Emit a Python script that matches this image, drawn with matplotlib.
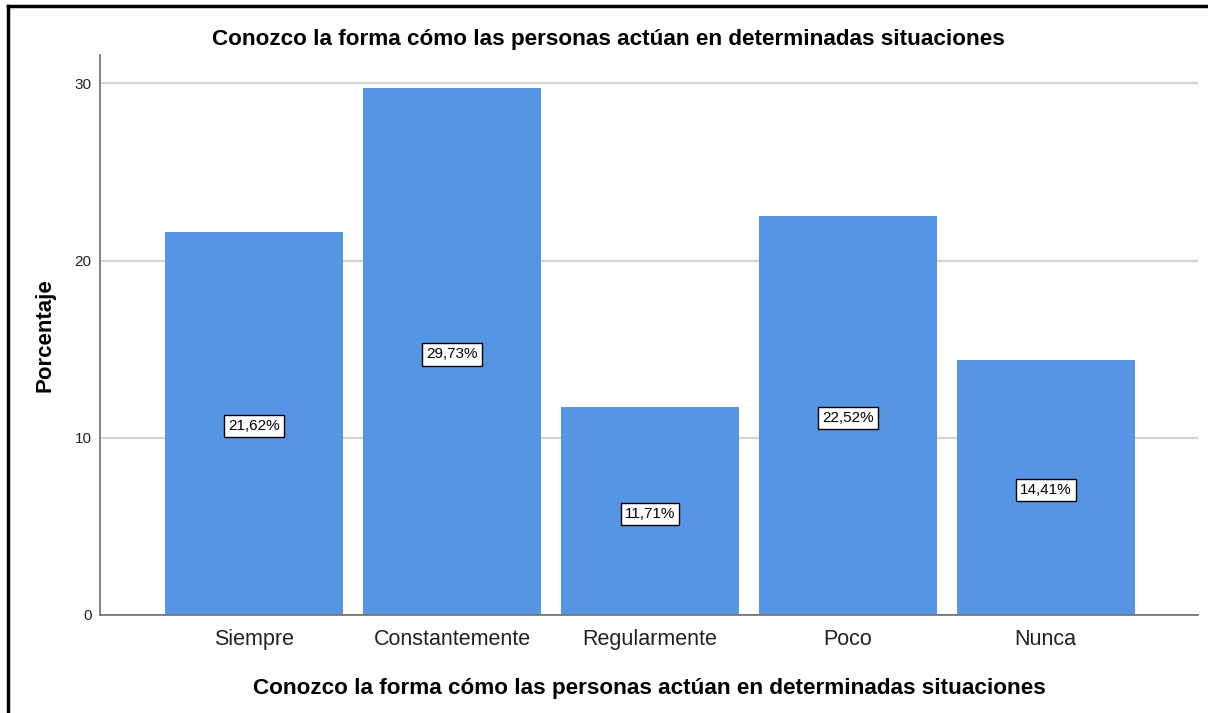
import matplotlib.pyplot as plt
import numpy as np
from matplotlib.lines import Line2D

plt.rcParams['font.family'] = ['Liberation Sans', 'DejaVu Sans']

categorias = ['Siempre', 'Constantemente', 'Regularmente', 'Poco', 'Nunca']
porcentajes = [21.62, 29.73, 11.71, 22.52, 14.41]
titulo = 'Conozco la forma cómo las personas actúan en determinadas situaciones'

BAR = '#5595E3'
GRID = '#D3D3D3'

fig = plt.figure(figsize=(12.08, 7.13), dpi=100)
ax = fig.add_axes([100/1208, 1-615/713, 1098/1208, (615-55)/713])

x = np.arange(len(categorias))
ax.bar(x, porcentajes, 0.9, color=BAR, zorder=2)
for xi, v in zip(x, porcentajes):
    ax.text(xi, v/2 - 0.15, f'{v:.2f}%'.replace('.', ','), ha='center', va='center', fontsize=11,
            color='black', zorder=3,
            bbox=dict(boxstyle='square,pad=0.28', fc='white', ec='black', lw=1))

ax.set_xlim(-0.78, 4.77)
ax.set_ylim(0, 31.6)
ax.set_yticks([0, 10, 20, 30])
ax.yaxis.grid(True, color=GRID, lw=1.6, zorder=0)
ax.set_axisbelow(True)
ax.set_xticks(x)
ax.set_xticklabels(categorias, fontsize=15.5, color='#222222')
ax.tick_params(axis='x', length=0, pad=10)
ax.tick_params(axis='y', length=0, pad=6, labelsize=11, labelcolor='#222222')
for s in ['top', 'right']:
    ax.spines[s].set_visible(False)
for s in ['left', 'bottom']:
    ax.spines[s].set_color('#777777')
    ax.spines[s].set_linewidth(1.3)

ax.set_xlabel(titulo, fontsize=16.2, fontweight='bold', labelpad=20)
ax.set_ylabel('Porcentaje', fontsize=16, fontweight='bold', labelpad=14)
fig.text(608/1208, 1-40/713, titulo, ha='center', va='center', fontsize=16.2, fontweight='bold')

# marco superior e izquierdo
fig.add_artist(Line2D([8/1208, 1], [1-6/713, 1-6/713], color='black', lw=2.5, transform=fig.transFigure))
fig.add_artist(Line2D([8/1208, 8/1208], [0, 1-6/713], color='black', lw=2.5, transform=fig.transFigure))

fig.savefig('out.png', dpi=100)
